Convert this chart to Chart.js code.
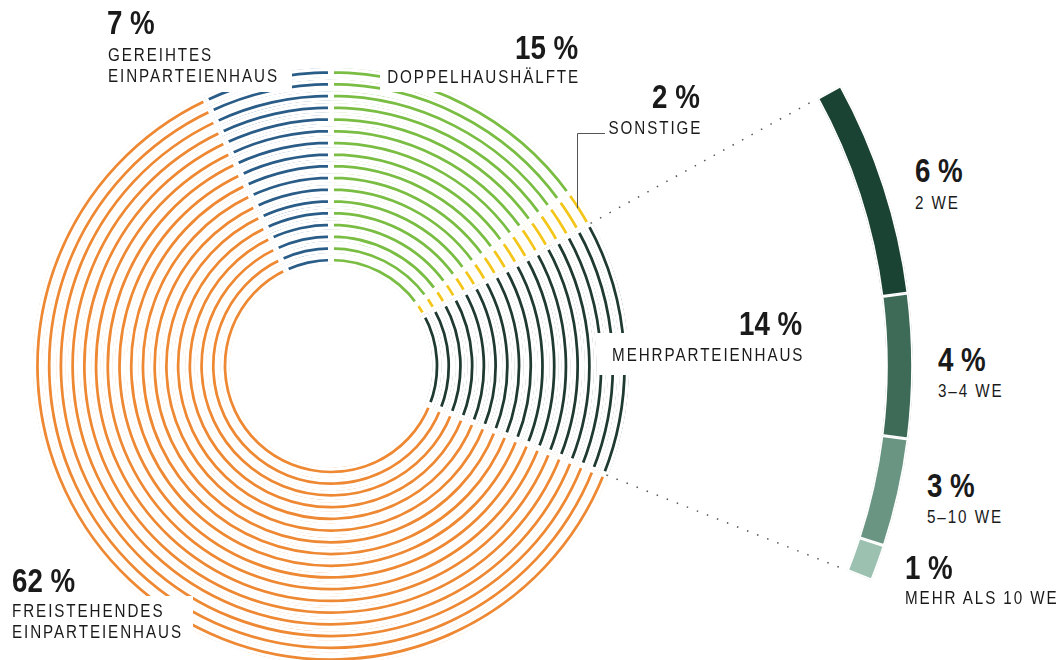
<!DOCTYPE html>
<html>
<head>
<meta charset="utf-8">
<title>Gebäudetypen</title>
<script src="https://cdn.jsdelivr.net/npm/chart.js@4.4.1/dist/chart.umd.min.js"></script>
<style>
  html, body { margin: 0; padding: 0; background: #fff; }
  #wrap { position: relative; width: 1058px; height: 660px; overflow: hidden; background: #fff; }
  #ring { position: absolute; }
  .box { position: absolute; background: #fff; }
  .lbl { position: absolute; color: #1a1a1a; white-space: nowrap;
         font-family: "Liberation Sans", Arial, sans-serif; }
  .pct { font-weight: bold; font-size: 33px; line-height: 33px; }
  .name { font-size: 19px; line-height: 21px; letter-spacing: 2.4px; }
</style>
</head>
<body>
<div id="wrap">
  <canvas id="ring" width="1164" height="1164"></canvas>
</div>
<script>
// Anteile der Gebäudetypen (im Uhrzeigersinn ab 12 Uhr)
const categories = ['DOPPELHAUSHÄLFTE', 'SONSTIGE', 'MEHRPARTEIENHAUS', 'FREISTEHENDES EINPARTEIENHAUS', 'GEREIHTES EINPARTEIENHAUS'];
const shares = [15, 2, 14, 62, 7];
const ringColors = ['#7abd43', '#f4c61a', '#1f3a30', '#ee8832', '#2a5c88'];

// Aufteilung Mehrparteienhaus nach Wohneinheiten
const subCategories = ['2 WE', '3–4 WE', '5–10 WE', 'MEHR ALS 10 WE'];
const subShares = [6, 4, 3, 1];
const subColors = ['#1b4333', '#3e6b58', '#6a9583', '#9cc1b0'];

const SPLIT = 2; // index of Mehrparteienhaus

// geometry (px)
const CX = 331, CY = 366;
const OUTER = 582, BAR_IN = 555;
const RING_COUNT = 17, RING_R0 = 106, RING_STEP = 11.72, RING_BAND = 9.4;
const ringOuterEdge = RING_R0 + (RING_COUNT - 1) * RING_STEP + RING_BAND / 2;
const cutout = RING_R0 - RING_BAND / 2;

const canvas = document.getElementById('ring');
canvas.style.left = (CX - OUTER) + 'px';
canvas.style.top = (CY - OUTER) + 'px';
canvas.style.width = (OUTER * 2) + 'px';
canvas.style.height = (OUTER * 2) + 'px';

const clear = 'rgba(0,0,0,0)';
const before = shares.slice(0, SPLIT).reduce((a, b) => a + b, 0);
const after = shares.slice(SPLIT + 1).reduce((a, b) => a + b, 0);

function spacer(w) {
    return { data: [1], backgroundColor: clear, borderWidth: 0, weight: w, hoverOffset: 0 };
}

let datasets = [];
datasets.push({
    data: [before, ...subShares, after],
    backgroundColor: [clear, ...subColors, clear],
    borderColor: '#fff',
    borderWidth: [0, ...subShares.map(() => 1.5), 0],
    borderAlign: 'inner',
    hoverOffset: 0,
    weight: OUTER - BAR_IN
});
datasets.push(spacer(BAR_IN - ringOuterEdge));
for (let k = RING_COUNT - 1; k >= 0; k--) {
    datasets.push({
        data: shares,
        backgroundColor: ringColors,
        borderColor: '#fff',
        borderWidth: 3,
        borderAlign: 'inner',
        hoverOffset: 0,
        weight: RING_BAND
    });
    if (k > 0) datasets.push(spacer(RING_STEP - RING_BAND));
}

// dotted guide lines + leader line for "Sonstige"
const guides = {
    id: 'guides',
    afterDatasetsDraw(chart) {
        const ctx = chart.ctx;
        const bar = chart.getDatasetMeta(0).data;
        const first = bar[1], last = bar[subShares.length];
        const r1 = ringOuterEdge - 2, r2 = first.innerRadius;
        ctx.save();
        ctx.strokeStyle = '#555';
        ctx.lineWidth = 1.5;
        ctx.setLineDash([1.5, 9.3]);
        [first.startAngle, last.endAngle].forEach(a => {
            ctx.beginPath();
            ctx.moveTo(first.x + Math.cos(a) * r1, first.y + Math.sin(a) * r1);
            ctx.lineTo(first.x + Math.cos(a) * r2, first.y + Math.sin(a) * r2);
            ctx.stroke();
        });

        const arc = chart.getDatasetMeta(2).data[1];
        const mid = (arc.startAngle + arc.endAngle) / 2;
        const r = arc.outerRadius - 4;
        const x0 = arc.x + Math.cos(mid) * r - 2, y0 = arc.y + Math.sin(mid) * r;
        const offX = OUTER - CX, offY = OUTER - CY;
        ctx.setLineDash([]);
        ctx.lineWidth = 1;
        ctx.strokeStyle = '#555';
        ctx.beginPath();
        ctx.moveTo(Math.round(x0) + 0.5, y0);
        ctx.lineTo(Math.round(x0) + 0.5, 133 + offY + 0.5);
        ctx.lineTo(605 + offX, 133 + offY + 0.5);
        ctx.stroke();
        ctx.restore();
    }
};

new Chart(canvas.getContext('2d'), {
    type: 'doughnut',
    data: { labels: categories, datasets: datasets },
    options: {
        responsive: false,
        animation: false,
        events: [],
        cutout: (cutout / OUTER * 100) + '%',
        layout: { padding: 0 },
        plugins: { legend: { display: false }, tooltip: { enabled: false } }
    },
    plugins: [guides]
});

// labels (positions = cap tops in page px)
const labelLayout = [
    { pct: { right: 578, top: 35 }, name: { right: 578, top: 69 }, box: [380, 60, 208, 32] },
    { pct: { right: 700, top: 84 }, name: { right: 700, top: 120 } },
    { pct: { right: 802, top: 311 }, name: { right: 802, top: 347 }, box: [597, 333, 213, 42] },
    { pct: { left: 12, top: 568 }, name: { left: 12, top: 603, width: 190 }, box: [0, 596, 193, 64] },
    { pct: { left: 107, top: 10 }, name: { left: 108, top: 47, width: 180 }, box: [100, 38, 192, 54] }
];
const subLayout = [
    { left: 915, pct: 158, name: 195 },
    { left: 938, pct: 347, name: 383 },
    { left: 927, pct: 473, name: 509 },
    { left: 905, pct: 555, name: 590 }
];

const wrap = document.getElementById('wrap');
const PCT_SHIFT = 4.3, NAME_SHIFT = 3.5;
const PCT_SCALE = 0.84, NAME_SCALE = 0.8, LS = 2.4;

function addText(cls, text, pos, shift, scale, ls) {
    const d = document.createElement('div');
    d.className = 'lbl ' + cls;
    d.textContent = text;
    d.style.top = (pos.top - shift) + 'px';
    if (pos.right !== undefined) {
        d.style.right = (1058 - pos.right - ls * scale) + 'px';
        d.style.textAlign = 'right';
        d.style.transformOrigin = 'right top';
    } else {
        d.style.left = pos.left + 'px';
        d.style.transformOrigin = 'left top';
    }
    d.style.transform = 'scaleX(' + scale + ')';
    if (pos.width) {
        d.style.width = (pos.width / scale) + 'px';
        d.style.whiteSpace = 'normal';
    }
    wrap.appendChild(d);
}

labelLayout.forEach((l, i) => {
    if (l.box) {
        const b = document.createElement('div');
        b.className = 'box';
        b.style.left = l.box[0] + 'px';
        b.style.top = l.box[1] + 'px';
        b.style.width = l.box[2] + 'px';
        b.style.height = l.box[3] + 'px';
        wrap.appendChild(b);
    }
    addText('pct', shares[i] + ' %', l.pct, PCT_SHIFT, PCT_SCALE, 0);
    addText('name', categories[i], l.name, NAME_SHIFT, NAME_SCALE, LS);
});

subLayout.forEach((l, i) => {
    addText('pct', subShares[i] + ' %', { left: l.left, top: l.pct }, PCT_SHIFT, PCT_SCALE, 0);
    addText('name', subCategories[i], { left: l.left, top: l.name }, NAME_SHIFT, NAME_SCALE, LS);
});
</script>
</body>
</html>
